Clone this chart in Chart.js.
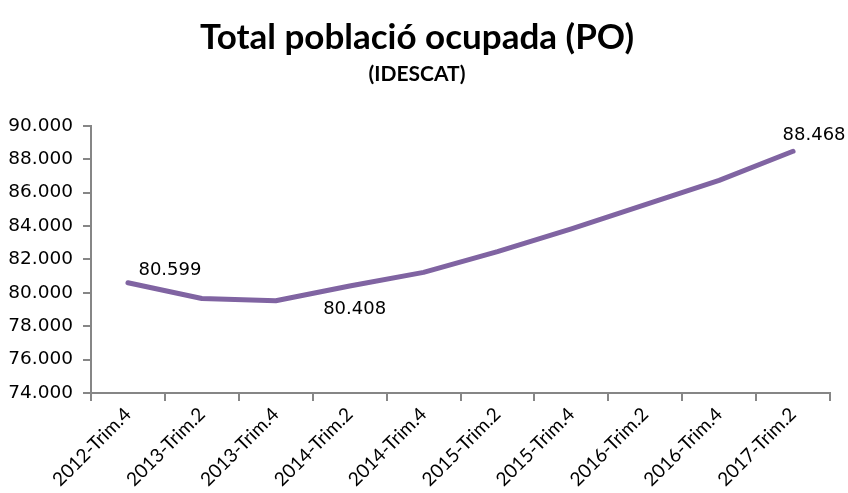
<!DOCTYPE html>
<html>
<head>
<meta charset="utf-8">
<script src="https://cdn.jsdelivr.net/npm/chart.js@4/dist/chart.umd.min.js"></script>
<style>
  html, body { margin: 0; padding: 0; background: #fff; }
  #wrap { width: 848px; height: 493px; }
</style>
</head>
<body>
<div id="wrap"><canvas id="poChart" width="848" height="493"></canvas></div>
<script>
const periods = ["2012-Trim.4", "2013-Trim.2", "2013-Trim.4", "2014-Trim.2", "2014-Trim.4",
                 "2015-Trim.2", "2015-Trim.4", "2016-Trim.2", "2016-Trim.4", "2017-Trim.2"];
const ocupats = [80599, 79660, 79520, 80408, 81220, 82460, 83830, 85280, 86730, 88468];
const yTicks = { min: 74000, max: 90000, step: 2000 };

// only a few points carry a value label; dx/dy move the text off the line
const labelled = [
  { index: 0, dx: 42, dy: -12 },
  { index: 3, dx: 5, dy: 23 },
  { index: 9, dx: 21, dy: -16 }
];

const fmt = (v) => v.toLocaleString("de-DE");

const pointLabels = {
  id: "pointLabels",
  afterDatasetsDraw(chart) {
    const ctx = chart.ctx;
    const meta = chart.getDatasetMeta(0);
    ctx.save();
    ctx.font = "18px 'DejaVu Sans'";
    ctx.fillStyle = "#000";
    ctx.textAlign = "center";
    ctx.textBaseline = "middle";
    labelled.forEach(l => {
      const pt = meta.data[l.index];
      ctx.fillText(fmt(ocupats[l.index]), pt.x + l.dx, pt.y + l.dy);
    });
    ctx.restore();
  }
};

const axisGrey = "#868686";

new Chart(document.getElementById("poChart"), {
  type: "line",
  data: {
    labels: periods,
    datasets: [{
      label: "Població ocupada",
      data: ocupats,
      borderColor: "#8064A2",
      borderWidth: 5,
      borderCapStyle: "round",
      borderJoinStyle: "round",
      pointRadius: 0,
      tension: 0,
      fill: false
    }]
  },
  options: {
    responsive: false,
    animation: false,
    layout: { padding: { top: 0, right: 18, left: 4, bottom: 0 } },
    plugins: {
      legend: { display: false },
      tooltip: { enabled: false },
      title: {
        display: true,
        text: "Total població ocupada (PO)",
        color: "#000",
        font: { family: "Lato", size: 35, weight: "bold" },
        padding: { top: 17, bottom: 3 }
      },
      subtitle: {
        display: true,
        text: "(IDESCAT)",
        color: "#000",
        font: { family: "Lato", size: 21, weight: "bold" },
        padding: { top: 0, bottom: 38.5 }
      }
    },
    scales: {
      x: {
        offset: true,
        grid: { offset: true, drawOnChartArea: false, tickLength: 8, color: axisGrey, lineWidth: 2 },
        border: { color: axisGrey, width: 2 },
        ticks: {
          color: "#000",
          font: { family: "Lato", size: 19 },
          minRotation: 45,
          maxRotation: 45,
          padding: 2
        },
        afterFit: (axis) => { axis.height = 100; }
      },
      y: {
        min: yTicks.min,
        max: yTicks.max,
        grid: { drawOnChartArea: false, tickLength: 8, color: axisGrey, lineWidth: 2 },
        border: { color: axisGrey, width: 2 },
        ticks: {
          stepSize: yTicks.step,
          color: "#000",
          font: { family: "DejaVu Sans", size: 18.5 },
          padding: 10,
          callback: (value) => fmt(value)
        },
        afterFit: (axis) => { axis.width = 87; }
      }
    }
  },
  plugins: [pointLabels]
});
</script>
</body>
</html>
